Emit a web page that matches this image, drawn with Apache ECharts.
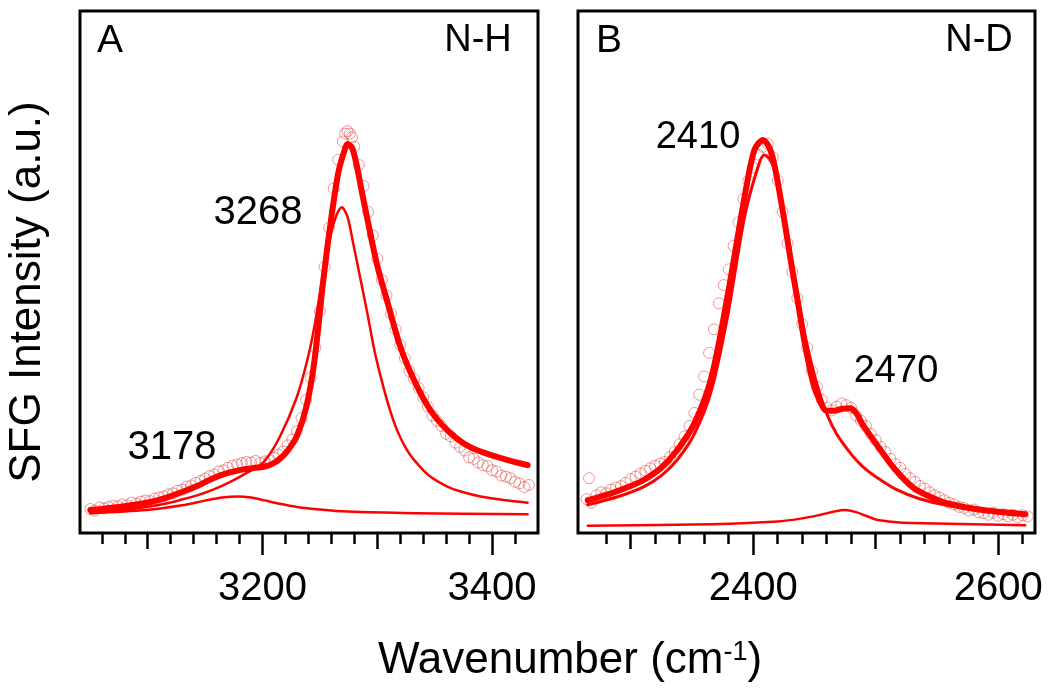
<!DOCTYPE html>
<html><head><meta charset="utf-8">
<script src="https://cdn.jsdelivr.net/npm/echarts@6/dist/echarts.min.js"></script>
<style>html,body{margin:0;padding:0;background:#fff}#c{width:1050px;height:693px}</style>
</head><body><div id="c"></div>
<script>
// ---------- Panel A (N-H) ----------
const dataA = [[3050,4.6],[3054,4.3],[3058,4.9],[3062,4.7],[3066,5.0],[3070,5.2],[3074,5.1],[3078,5.5],[3082,5.3],[3086,5.8],[3090,5.6],[3094,6.0],[3098,6.2],[3102,6.1],[3106,6.6],[3110,6.8],[3114,7.0],[3118,7.4],[3122,7.6],[3126,8.1],[3130,8.3],[3134,8.9],[3138,9.1],[3142,9.6],[3146,10.0],[3150,10.4],[3154,10.9],[3158,11.2],[3162,11.8],[3166,12.0],[3170,12.5],[3174,12.9],[3178,13.1],[3182,13.4],[3186,13.6],[3190,13.5],[3194,13.8],[3198,13.4],[3202,13.7],[3206,13.9],[3210,14.4],[3214,15.0],[3218,15.6],[3222,16.8],[3226,17.9],[3230,19.5],[3234,22.0],[3238,25.5],[3242,29.8],[3246,35.5],[3250,42.5],[3254,51.0],[3258,58.5],[3262,66.0],[3266,71.5],[3270,75.0],[3272,76.5],[3274,77.0],[3276,76.5],[3278,75.8],[3280,74.0],[3284,70.5],[3288,66.5],[3292,61.5],[3296,57.0],[3300,52.5],[3304,48.5],[3308,45.5],[3312,42.0],[3316,39.0],[3320,36.0],[3324,33.5],[3328,31.0],[3332,29.5],[3336,27.8],[3340,26.0],[3344,24.2],[3348,22.5],[3352,21.5],[3356,20.5],[3360,19.0],[3364,18.5],[3368,17.3],[3372,16.5],[3376,15.8],[3380,14.5],[3384,14.2],[3388,13.5],[3392,13.0],[3396,12.8],[3400,12.0],[3404,11.8],[3408,11.0],[3412,10.8],[3416,10.5],[3420,9.8],[3424,9.5],[3428,8.8],[3432,9.2]];
const fitA = [[3050,4.4],[3075,5.0],[3099,5.8],[3115,6.7],[3128,7.7],[3143,9.0],[3157,10.5],[3170,11.5],[3181,12.1],[3191,12.4],[3201,12.7],[3209,13.3],[3215,14.2],[3222,15.8],[3230,18.6],[3238,24.0],[3245,32.6],[3253,48.5],[3260,60.5],[3266,69.0],[3271,73.0],[3274,74.5],[3278,73.8],[3282,70.5],[3286,66.0],[3291,60.5],[3300,51.2],[3309,44.1],[3320,35.7],[3332,29.3],[3346,23.6],[3361,19.7],[3375,17.2],[3390,15.6],[3413,14.0],[3431,13.0]];
const comp3268 = [[3050,3.9],[3075,4.4],[3099,5.0],[3115,5.6],[3128,6.3],[3143,7.2],[3157,8.3],[3172,9.8],[3187,11.6],[3201,13.6],[3215,18.4],[3230,26.1],[3240,34.0],[3246,40.5],[3253,50.0],[3259,56.8],[3265,61.2],[3269,62.4],[3274,60.6],[3279,55.5],[3285,49.0],[3291,42.5],[3297,35.5],[3303,29.9],[3310,24.3],[3317,19.8],[3325,16.2],[3332,14.0],[3345,11.0],[3361,8.9],[3375,7.8],[3390,7.0],[3410,6.3],[3431,5.8]];
const comp3178 = [[3050,3.8],[3099,4.4],[3130,5.3],[3150,6.2],[3165,6.8],[3178,7.0],[3190,6.8],[3201,6.3],[3215,5.6],[3230,5.0],[3250,4.5],[3274,4.1],[3332,3.8],[3431,3.6]];
const minorTicksA = [3060,3080,3100,3120,3140,3160,3180,3200,3220,3240,3260,3280,3300,3320,3340,3360,3380,3400,3420];
const midTicksA = [3100,3200,3300,3400];
const labelTicksA = [3200,3400];

// ---------- Panel B (N-D) ----------
const dataB = [[2264,6.5],[2266,10.5],[2268,5.8],[2272,7.2],[2276,7.8],[2280,7.6],[2284,8.3],[2288,8.7],[2292,9.0],[2296,9.6],[2300,10.3],[2304,10.8],[2308,11.4],[2312,11.9],[2316,12.4],[2320,12.9],[2324,13.3],[2328,13.6],[2332,14.5],[2336,15.5],[2340,17.0],[2344,18.5],[2348,20.5],[2352,23.0],[2356,26.5],[2360,30.0],[2364,34.5],[2368,39.0],[2372,44.0],[2376,47.5],[2380,50.5],[2384,55.0],[2388,59.5],[2392,64.0],[2396,67.5],[2400,70.0],[2404,72.5],[2408,74.0],[2412,74.5],[2416,72.0],[2420,67.5],[2424,61.5],[2428,55.5],[2432,50.0],[2436,45.0],[2440,40.0],[2444,35.5],[2448,31.0],[2452,28.0],[2456,25.5],[2460,24.0],[2464,23.5],[2468,24.2],[2472,24.8],[2476,24.5],[2480,24.0],[2484,22.5],[2488,21.5],[2492,20.5],[2496,19.0],[2500,17.8],[2504,16.5],[2508,15.5],[2512,14.2],[2516,13.2],[2520,12.5],[2524,11.3],[2528,10.5],[2532,9.8],[2536,9.0],[2540,8.5],[2544,7.8],[2548,7.2],[2552,6.8],[2556,6.3],[2560,5.8],[2564,5.5],[2568,5.0],[2572,4.8],[2576,4.3],[2580,4.5],[2584,4.0],[2588,3.8],[2592,3.5],[2596,3.9],[2600,3.3],[2604,3.6],[2608,3.2],[2612,3.5],[2616,3.0],[2620,3.4],[2624,3.2]];
const fitB = [[2265,6.3],[2284,7.6],[2300,9.0],[2311,10.2],[2325,12.5],[2338,15.9],[2352,21.0],[2366,29.9],[2379,45.3],[2393,64.4],[2401,73.4],[2408,75.3],[2415,72.7],[2423,63.2],[2431,51.7],[2437,43.5],[2442,36.5],[2449,28.7],[2455,25.0],[2460,23.4],[2466,23.4],[2473,23.8],[2479,23.9],[2484,23.0],[2490,20.5],[2500,17.2],[2515,12.4],[2531,8.6],[2545,6.9],[2558,5.7],[2584,4.5],[2622,3.6]];
const comp2410 = [[2265,5.4],[2290,7.0],[2311,8.9],[2325,11.0],[2338,14.0],[2352,19.0],[2366,27.4],[2379,41.4],[2393,60.6],[2404,70.2],[2409,72.4],[2414,71.5],[2420,67.6],[2431,52.9],[2440,40.5],[2448,32.0],[2455,26.2],[2461,22.3],[2468,19.0],[2476,16.3],[2484,14.0],[2493,12.0],[2505,10.0],[2517,8.3],[2535,6.6],[2558,5.3],[2584,4.5],[2622,3.8]];
const comp2470 = [[2265,1.4],[2366,1.7],[2420,2.2],[2440,2.8],[2455,3.5],[2466,4.1],[2475,4.4],[2484,4.0],[2492,3.3],[2500,2.6],[2515,2.1],[2529,1.9],[2622,1.5]];
const minorTicksB = [2280,2300,2320,2340,2360,2380,2400,2420,2440,2460,2480,2500,2520,2540,2560,2580,2600,2620];
const midTicksB = [2300,2400,2500,2600];
const labelTicksB = [2400,2600];

const FONT = '"Liberation Sans", Arial, sans-serif';
const RED = '#ff0000';
const ranges = [[3041, 3440], [2257, 2630]];
const rects = [{left: 80, width: 458}, {left: 578, width: 457}];

const grids = [], xAxes = [], yAxes = [];
function addGrid(p, level) {
  const r = rects[p];
  const gi = grids.length;
  grids.push({left: r.left, top: 11, width: r.width, height: 522,
    show: level === 0, borderColor: '#000', borderWidth: 3, backgroundColor: 'transparent'});
  const ticks = level === 0 ? (p ? minorTicksB : minorTicksA) : level === 1 ? (p ? midTicksB : midTicksA) : (p ? labelTicksB : labelTicksA);
  const len = [11, 16, 22][level];
  xAxes.push({type: 'value', gridIndex: gi, min: ranges[p][0], max: ranges[p][1],
    axisLine: {show: false}, splitLine: {show: false},
    axisTick: {show: true, length: len, customValues: ticks, lineStyle: {color: '#000', width: 2.5}},
    axisLabel: level === 2 ? {show: true, customValues: ticks, margin: 36, fontSize: 40, fontFamily: FONT, color: '#000',
      formatter: v => String(Math.round(v))} : {show: false}
  });
  yAxes.push({type: 'value', gridIndex: gi, min: 0, max: 100, show: false});
  return gi;
}
const gA = addGrid(0, 0); addGrid(0, 1); addGrid(0, 2);
const gB = addGrid(1, 0); addGrid(1, 1); addGrid(1, 2);

function scatter(gi, d) {
  return {type: 'scatter', xAxisIndex: gi, yAxisIndex: gi, data: d, symbol: 'circle', symbolSize: 11,
    itemStyle: {color: 'rgba(255,255,255,0)', borderColor: 'rgba(225,70,70,0.7)', borderWidth: 1}, z: 2, silent: true};
}
function line(gi, d, w, z) {
  return {type: 'line', xAxisIndex: gi, yAxisIndex: gi, data: d, smooth: 0.3, showSymbol: false,
    lineStyle: {color: RED, width: w, join: 'round', cap: 'round'}, z: z, silent: true};
}

const txt = (t, x, y, size, extra) => Object.assign({type: 'text', x: x, y: y, z: 100,
  style: {text: t, fontSize: size, fontFamily: FONT, fill: '#000', align: 'center', verticalAlign: 'middle'}}, extra || {});

const option = {
  animation: false,
  backgroundColor: '#fff',
  grid: grids, xAxis: xAxes, yAxis: yAxes,
  series: [
    scatter(gA, dataA), line(gA, comp3178, 2.5, 3), line(gA, comp3268, 2.5, 3), line(gA, fitA, 6, 4),
    scatter(gB, dataB), line(gB, comp2470, 2.5, 3), line(gB, comp2410, 3, 3), line(gB, fitB, 6, 4)
  ],
  graphic: [
    txt('A', 110, 41, 39), txt('N-H', 478, 41, 38),
    txt('B', 609, 41, 39), txt('N-D', 979, 41, 38),
    txt('3268', 258, 213, 40), txt('3178', 172, 448, 40),
    txt('2410', 698, 138, 38), txt('2470', 896, 372, 38),
    txt('SFG Intensity (a.u.)', 28, 292, 44, {rotation: Math.PI / 2}),
    {type: 'text', x: 570, y: 661, z: 100, style: {
      text: 'Wavenumber (cm{s|-1})', fontSize: 44, fontFamily: FONT, fill: '#000', align: 'center', verticalAlign: 'middle',
      rich: {s: {fontSize: 27, fontFamily: FONT, fill: '#000', verticalAlign: 'top', padding: [0, 0, 14, 0]}}
    }}
  ]
};
const chart = echarts.init(document.getElementById('c'), null, {renderer: 'canvas'});
chart.setOption(option);
</script></body></html>
